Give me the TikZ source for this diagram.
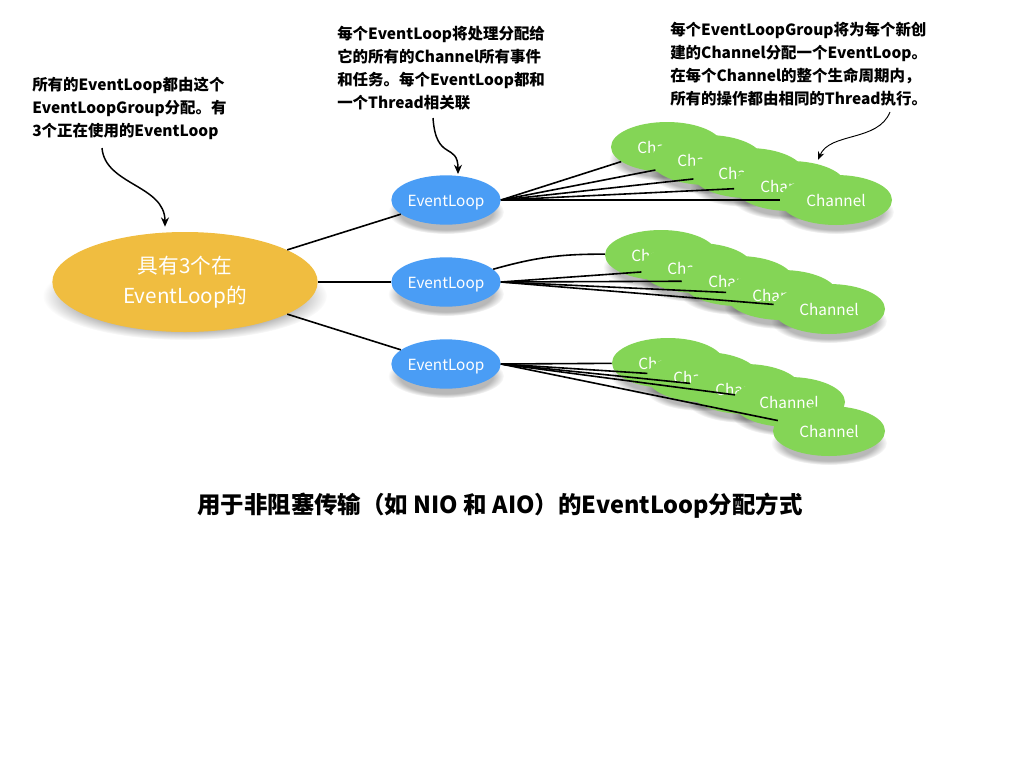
\documentclass[tikz,border=0pt]{standalone}
\usepackage{fontspec}
\setmainfont{Noto Sans CJK SC}
\usepackage{tikz}
\usetikzlibrary{shapes.geometric, arrows.meta, positioning, calc, backgrounds, fadings}
\definecolor{groupyellow}{RGB}{240, 189, 64}
\definecolor{loopblue}{RGB}{74, 157, 245}
\definecolor{changreen}{RGB}{132, 213, 86}

\begin{document}
\begin{tikzpicture}[x=0.75pt, y=-0.75pt,
    groupnode/.style={ellipse, fill=groupyellow, text=white, minimum width=199pt,
                minimum height=75pt, inner sep=0pt, align=center,
                font=\fontsize{15.5}{22.5}\selectfont},
    loopnode/.style={ellipse, fill=loopblue, text=white, minimum width=82pt,
                minimum height=37pt, inner sep=0pt, text height=10pt, text depth=1pt,
                font=\fontsize{11.5}{14}\selectfont},
    chan/.style={ellipse, fill=changreen, text=white, minimum width=84pt,
                minimum height=37.5pt, inner sep=0pt, text height=10pt, text depth=1pt,
                font=\fontsize{11.5}{14}\selectfont},
    note/.style={anchor=north west, inner sep=0pt, align=left,
                font=\fontsize{11.6}{17.3}\selectfont\bfseries},
    link/.style={line width=1.2pt},
    callout/.style={line width=1.1pt, -{Stealth[length=7pt, width=6pt]}},
    softshade/.style={fill=black, opacity=0.28, path fading=circle with fuzzy edge 20 percent}
]
    \useasboundingbox (0,0) rectangle (1024,768);

    % group and its three loops
    \node[groupnode] (grp) at (185,282) {具有3个在\\EventLoop的};
    \node[loopnode] (el1) at (446,200) {EventLoop};
    \node[loopnode] (el2) at (446,282) {EventLoop};
    \node[loopnode] (el3) at (446,364) {EventLoop};

    % channels, back to front
    \foreach \g/\k/\x/\y in {1/1/667/147, 1/2/707/160, 1/3/748/173, 1/4/790/186, 1/5/836/200,
                             2/1/661/255, 2/2/697/268, 2/3/738/281, 2/4/782/295, 2/5/829/309,
                             3/1/668/363, 3/2/703/377, 3/3/745/389, 3/4/789/402, 3/5/829/431}
        \node[chan] (ch\g\k) at (\x,\y) {Channel};

    % soft shadows
    \begin{scope}[on background layer]
        \fill[softshade] ($(grp.center)+(0,14)$) ellipse [x radius=142, y radius=44];
        \foreach \n in {el1, el2, el3}
            \fill[softshade] ($(\n.center)+(0,12)$) ellipse [x radius=58, y radius=22];
        \foreach \g in {1,2,3}
            \foreach \k in {1,...,5}
                \fill[softshade] ($(ch\g\k.center)+(0,12)$) ellipse [x radius=58, y radius=22];
    \end{scope}

    % links
    \foreach \n in {el1, el2, el3}
        \draw[link] (grp) -- (\n);
    \foreach \k in {1,...,5}
        \draw[link] (el1.east) -- (ch1\k);
    \draw[link] (el2) to[bend left=8] (ch21);
    \foreach \k in {2,...,5}
        \draw[link] (el2.east) -- (ch2\k);
    \foreach \k in {1,...,5}
        \draw[link] (el3.east) -- (ch3\k);

    % notes
    \node[note] (note1) at (32,77) {所有的EventLoop都由这个\\
        EventLoopGroup分配。有\\
        3个正在使用的EventLoop};
    \node[note] (note2) at (337,26) {每个EventLoop将处理分配给\\
        它的所有的Channel所有事件\\
        和任务。每个EventLoop都和\\
        一个Thread相关联};
    \node[note] (note3) at (670,22) {每个EventLoopGroup将为每个新创\\
        建的Channel分配一个EventLoop。\\
        在每个Channel的整个生命周期内，\\
        所有的操作都由相同的Thread执行。};

    \coordinate (s1) at (102,148);
    \coordinate (s2) at (433,118);
    \coordinate (s3) at (890,112);
    \draw[callout] (s1) .. controls (105,185) and (165,185) .. ($(grp.north)+(-20,-5)$);
    \draw[callout] (s2) .. controls (436,162) and (458,142) .. ($(el1.north)+(12,-1)$);
    \draw[line width=0.7pt, -{Stealth[length=6pt, width=5pt]}]
        (s3) .. controls (878,142) and (830,132) .. ($(ch14.north)+(28,-1)$);

    % title
    \node[font=\fontsize{17.6}{20}\selectfont\bfseries] (title) at (500,506)
        {用于非阻塞传输（如 NIO 和 AIO）的EventLoop分配方式};
\end{tikzpicture}
\end{document}
